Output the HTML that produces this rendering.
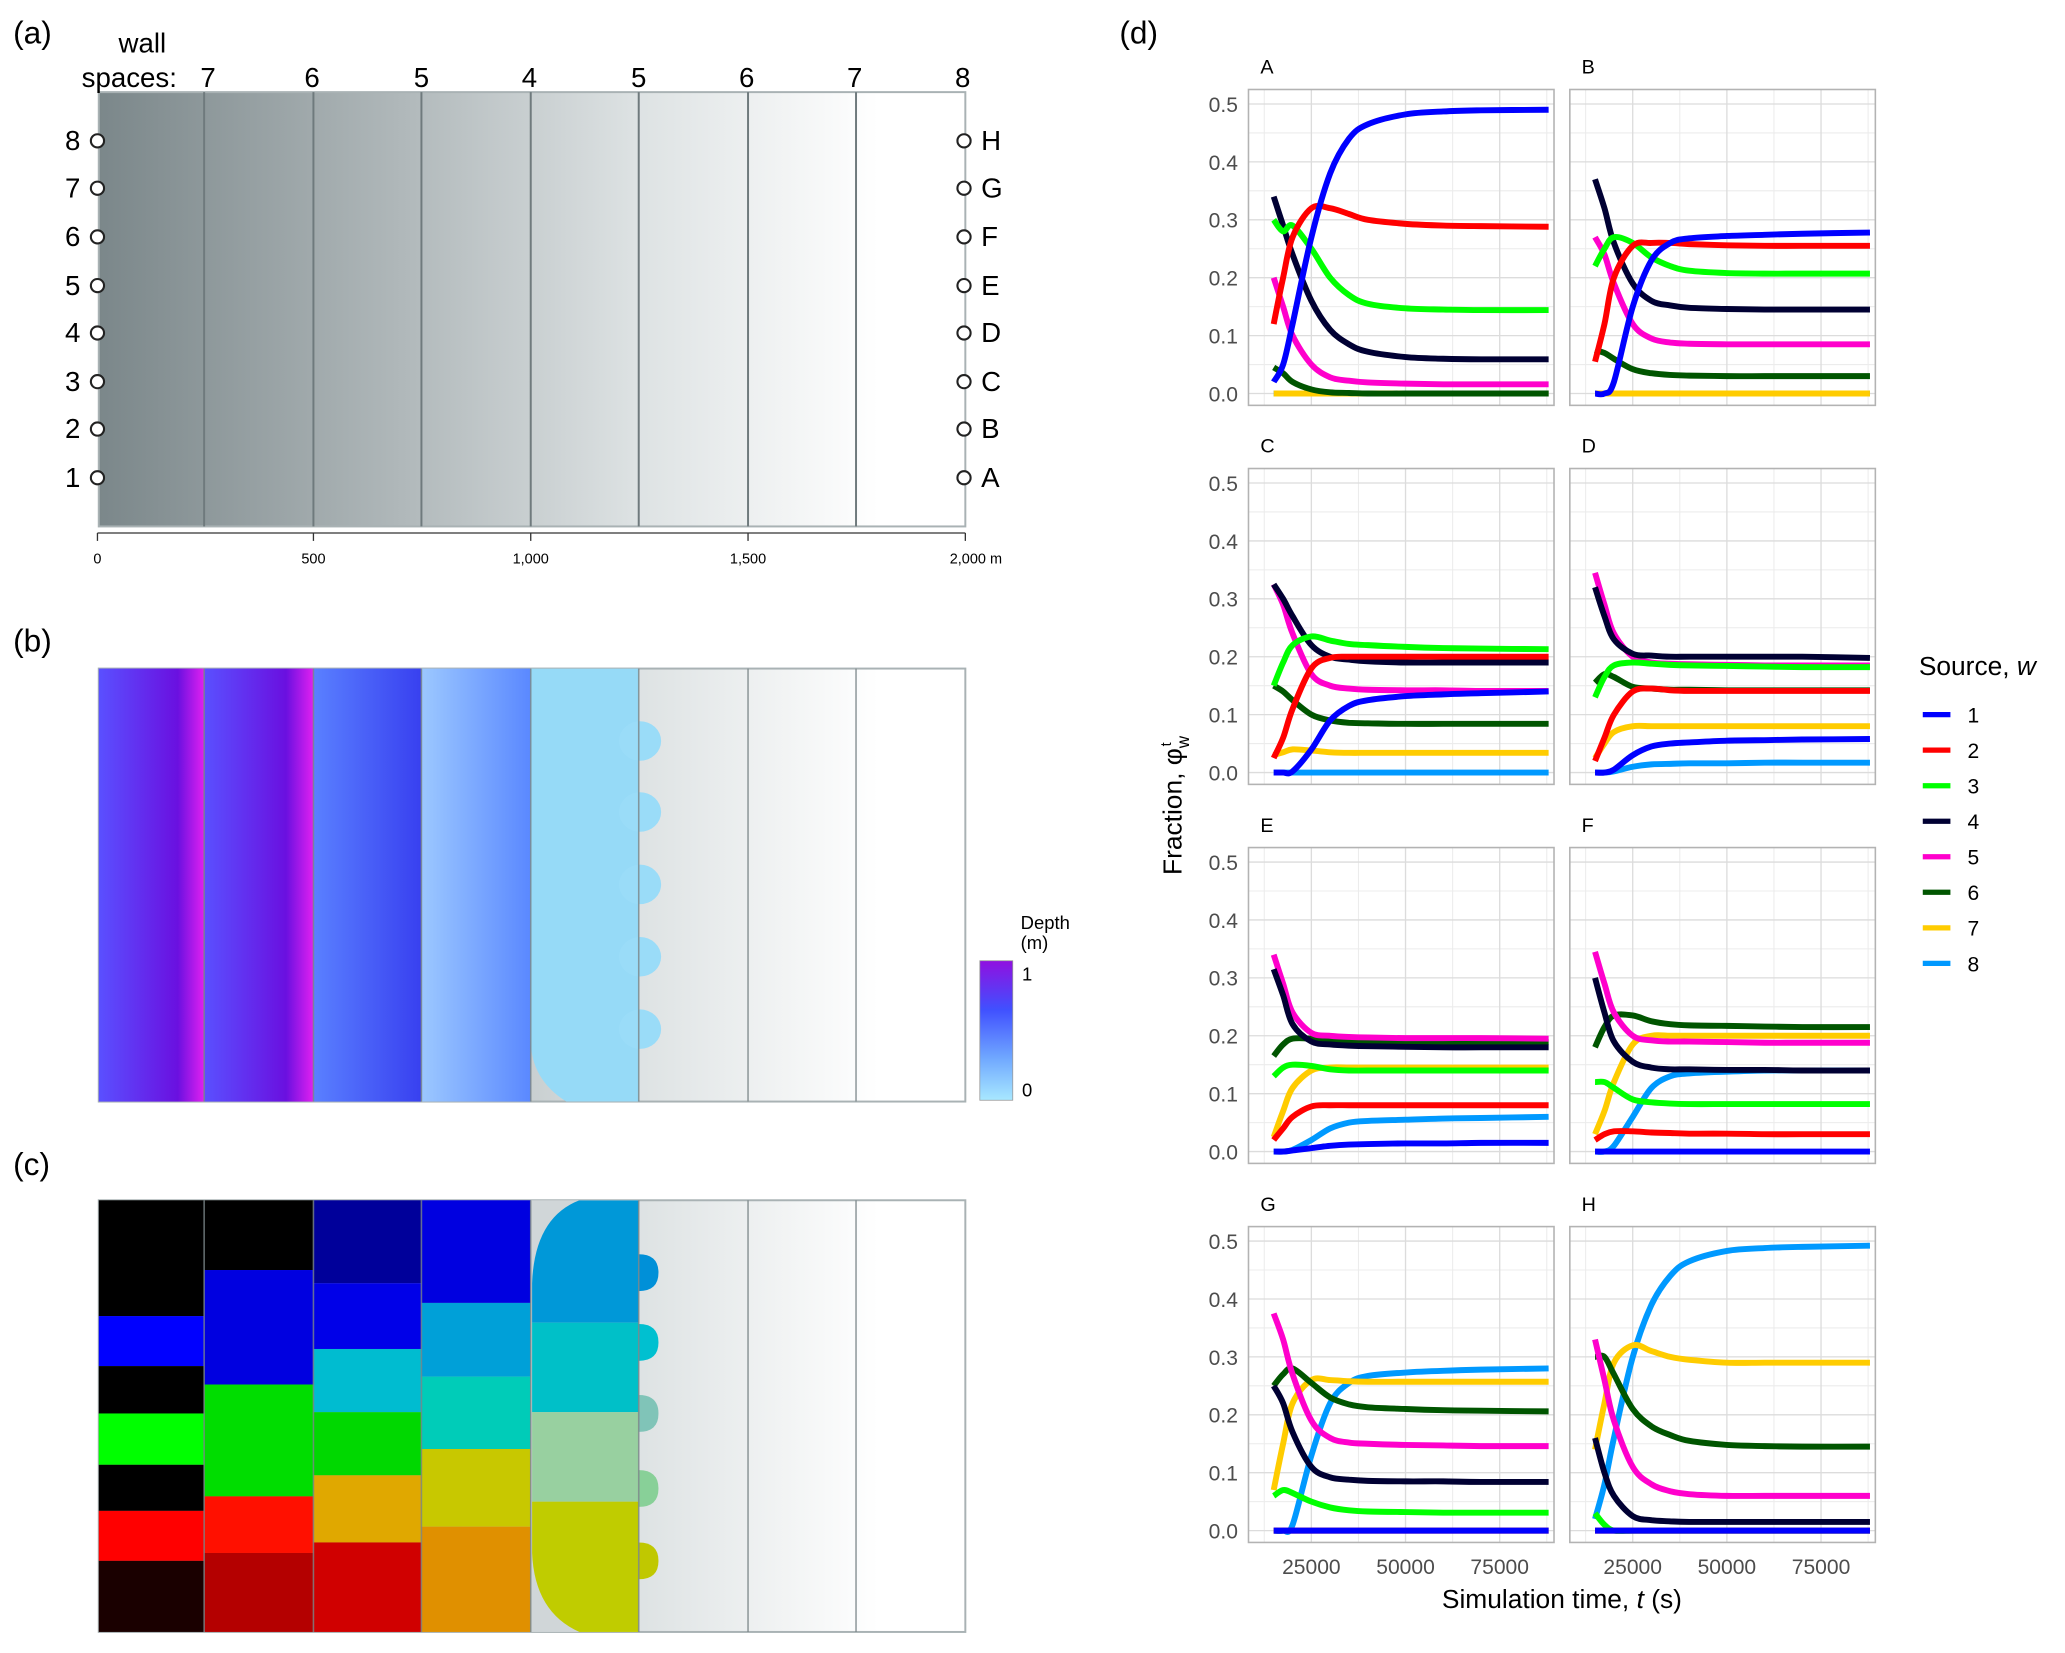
<!DOCTYPE html>
<html><head><meta charset="utf-8"><style>
html,body{margin:0;padding:0;background:#fff;}
svg{display:block;font-family:"Liberation Sans",sans-serif;}
</style></head><body>
<svg id="fig" width="2065" height="1653" viewBox="0 0 1568 1256" preserveAspectRatio="none" xmlns="http://www.w3.org/2000/svg">
<defs>
<linearGradient id="wallg" gradientUnits="userSpaceOnUse" x1="75" y1="0" x2="733" y2="0">
<stop offset="0" stop-color="#7b878a"/><stop offset="0.35" stop-color="#b0b8ba"/><stop offset="0.62" stop-color="#dde2e3"/><stop offset="0.9" stop-color="#ffffff"/></linearGradient>
<linearGradient id="purp" x1="0" y1="0" x2="1" y2="0"><stop offset="0" stop-color="#5a50ff"/><stop offset="0.75" stop-color="#6a10e0"/><stop offset="1" stop-color="#e020f0"/></linearGradient>
<linearGradient id="blu3" x1="0" y1="0" x2="1" y2="0"><stop offset="0" stop-color="#5a80ff"/><stop offset="1" stop-color="#3840f0"/></linearGradient>
<linearGradient id="blu4" x1="0" y1="0" x2="1" y2="0"><stop offset="0" stop-color="#9cc8ff"/><stop offset="1" stop-color="#5a88ff"/></linearGradient>
<linearGradient id="cbar" x1="0" y1="0" x2="0" y2="1"><stop offset="0" stop-color="#9010e0"/><stop offset="0.35" stop-color="#4050ff"/><stop offset="0.7" stop-color="#70a8ff"/><stop offset="1" stop-color="#a8e8ff"/></linearGradient>
</defs>
<g id="pa"></g>
<g id="pb"></g>
<g id="pc"></g>
<g id="pd"></g>
</svg>
<script>
const T = [15000,17500,20000,25000,30000,35000,40000,50000,60000,70000,88000];
const panelNames = ["A","B","C","D","E","F","G","H"];
const sourceColors = ["#0000ff","#ff0000","#00ff00","#000033","#ff00cc","#005500","#ffcc00","#0099ff"];
const sourceLabels = ["1","2","3","4","5","6","7","8"];
const yTicks = [0,0.1,0.2,0.3,0.4,0.5];
const xTicks = [25000,50000,75000];
const Z = [0,0,0,0,0,0,0,0,0,0,0];
const dataA = [
[0.02,0.05,0.12,0.27,0.38,0.44,0.465,0.482,0.487,0.489,0.49],
[0.12,0.20,0.27,0.32,0.32,0.31,0.30,0.293,0.29,0.289,0.288],
[0.30,0.28,0.29,0.25,0.20,0.17,0.155,0.147,0.145,0.144,0.144],
[0.34,0.29,0.24,0.16,0.11,0.085,0.072,0.063,0.06,0.059,0.059],
[0.20,0.15,0.10,0.05,0.028,0.022,0.019,0.017,0.016,0.016,0.016],
[0.045,0.035,0.02,0.007,0.002,0.001,0,0,0,0,0], Z, Z];
const dataB = [
[0,0,0.02,0.15,0.23,0.26,0.268,0.272,0.274,0.276,0.278],
[0.055,0.12,0.20,0.255,0.26,0.26,0.258,0.256,0.255,0.255,0.255],
[0.22,0.25,0.27,0.26,0.235,0.22,0.212,0.208,0.207,0.207,0.207],
[0.37,0.32,0.26,0.19,0.16,0.152,0.148,0.146,0.145,0.145,0.145],
[0.27,0.24,0.19,0.12,0.095,0.088,0.086,0.085,0.085,0.085,0.085],
[0.075,0.07,0.06,0.042,0.035,0.032,0.031,0.03,0.03,0.03,0.03], Z, Z];
const dataC = [
[0,0,0.002,0.04,0.09,0.115,0.125,0.132,0.135,0.137,0.14],
[0.025,0.06,0.11,0.18,0.198,0.2,0.2,0.2,0.2,0.2,0.2],
[0.15,0.19,0.22,0.235,0.228,0.222,0.22,0.217,0.215,0.214,0.213],
[0.325,0.30,0.27,0.22,0.2,0.195,0.192,0.19,0.19,0.19,0.19],
[0.325,0.29,0.24,0.17,0.15,0.145,0.143,0.142,0.142,0.141,0.141],
[0.15,0.14,0.125,0.10,0.09,0.086,0.085,0.084,0.084,0.084,0.084],
[0.03,0.035,0.04,0.038,0.035,0.034,0.034,0.034,0.034,0.034,0.034], Z];
const dataD = [
[0,0,0.005,0.03,0.045,0.05,0.052,0.055,0.056,0.057,0.058],
[0.02,0.06,0.10,0.14,0.145,0.142,0.141,0.141,0.141,0.141,0.141],
[0.13,0.165,0.185,0.19,0.188,0.186,0.185,0.184,0.183,0.182,0.182],
[0.32,0.27,0.23,0.205,0.202,0.2,0.2,0.2,0.2,0.2,0.198],
[0.345,0.29,0.24,0.2,0.19,0.188,0.187,0.186,0.185,0.185,0.185],
[0.155,0.17,0.165,0.148,0.145,0.143,0.143,0.142,0.142,0.142,0.142],
[0.025,0.05,0.07,0.08,0.08,0.08,0.08,0.08,0.08,0.08,0.08],
[0,0,0.002,0.01,0.014,0.015,0.016,0.016,0.017,0.017,0.017]];
const dataE = [
[0,0,0.002,0.006,0.01,0.012,0.013,0.014,0.014,0.015,0.015],
[0.02,0.04,0.06,0.078,0.08,0.08,0.08,0.08,0.08,0.08,0.08],
[0.13,0.145,0.15,0.148,0.142,0.14,0.14,0.14,0.14,0.14,0.14],
[0.315,0.27,0.22,0.19,0.185,0.183,0.182,0.181,0.18,0.18,0.18],
[0.34,0.29,0.24,0.205,0.2,0.198,0.197,0.196,0.196,0.196,0.195],
[0.165,0.185,0.195,0.195,0.192,0.19,0.19,0.189,0.189,0.189,0.189],
[0.025,0.07,0.11,0.14,0.145,0.145,0.145,0.145,0.145,0.145,0.145],
[0,0,0.003,0.02,0.04,0.05,0.053,0.055,0.057,0.058,0.06]];
const dataF = [
Z,
[0.02,0.03,0.035,0.035,0.033,0.032,0.031,0.031,0.03,0.03,0.03],
[0.12,0.12,0.11,0.09,0.085,0.083,0.082,0.082,0.082,0.082,0.082],
[0.30,0.24,0.19,0.155,0.145,0.142,0.142,0.141,0.141,0.14,0.14],
[0.345,0.29,0.24,0.2,0.192,0.19,0.19,0.189,0.188,0.188,0.188],
[0.18,0.215,0.235,0.235,0.225,0.22,0.218,0.217,0.216,0.215,0.215],
[0.03,0.07,0.12,0.185,0.2,0.2,0.2,0.2,0.2,0.2,0.2],
[0,0,0.01,0.06,0.11,0.13,0.135,0.138,0.14,0.14,0.14]];
const dataG = [
Z, Z,
[0.06,0.07,0.065,0.05,0.04,0.035,0.033,0.032,0.031,0.031,0.031],
[0.25,0.22,0.17,0.11,0.092,0.088,0.086,0.085,0.085,0.084,0.084],
[0.375,0.33,0.27,0.19,0.16,0.152,0.15,0.148,0.147,0.146,0.146],
[0.25,0.27,0.28,0.255,0.23,0.218,0.213,0.21,0.208,0.207,0.206],
[0.07,0.15,0.22,0.26,0.26,0.258,0.257,0.257,0.257,0.257,0.257],
[0,0,0.01,0.13,0.22,0.255,0.267,0.273,0.276,0.278,0.28]];
const dataH = [
Z, Z,
[0.03,0.01,0,0,0,0,0,0,0,0,0],
[0.16,0.10,0.06,0.025,0.018,0.016,0.015,0.015,0.015,0.015,0.015],
[0.33,0.26,0.19,0.11,0.08,0.068,0.063,0.06,0.06,0.06,0.06],
[0.30,0.30,0.27,0.21,0.18,0.165,0.155,0.148,0.146,0.145,0.145],
[0.14,0.22,0.29,0.32,0.31,0.30,0.295,0.29,0.29,0.29,0.29],
[0.02,0.08,0.16,0.30,0.39,0.44,0.465,0.483,0.488,0.49,0.492]];
const allData = [dataA,dataB,dataC,dataD,dataE,dataF,dataG,dataH];

const NS="http://www.w3.org/2000/svg";
function mk(parent,tag,attrs,txt){const e=document.createElementNS(NS,tag);for(const k in attrs)e.setAttribute(k,attrs[k]);if(txt!==undefined)e.textContent=txt;parent.appendChild(e);return e;}

// ---------- Panel (a) ----------
const pa=document.getElementById('pa');
let e=mk(pa,'text',{x:10,y:33,'font-size':24},'(a)');


mk(pa,'rect',{x:75,y:70,width:658,height:330,fill:'url(#wallg)',stroke:'#a9b2b4','stroke-width':1.5});
const sepX=[155,238,320,403,485,568,650];
sepX.forEach(x=>mk(pa,'line',{x1:x,y1:70,x2:x,y2:400,stroke:'#6f7a7d','stroke-width':1.5}));
mk(pa,'text',{x:90,y:40,'font-size':21},'wall');
mk(pa,'text',{x:62,y:66,'font-size':21},'spaces:');
const wallLabels=["7","6","5","4","5","6","7","8"];
const wallX=[158,237,320,402,485,567,649,731];
wallLabels.forEach((w,i)=>{e=mk(pa,'text',{x:wallX[i],y:66,'font-size':21,'text-anchor':'middle'},w);

});
const inY=[107,143,180,217,253,290,326,363];
const inL=["8","7","6","5","4","3","2","1"];
const outL=["H","G","F","E","D","C","B","A"];
inY.forEach((y,i)=>{
 mk(pa,'text',{x:61,y:y+7,'font-size':21,'text-anchor':'end'},inL[i]);
 e=mk(pa,'circle',{cx:74,cy:y,r:5,fill:'#fff',stroke:'#222','stroke-width':1.6});
 
 
 e=mk(pa,'circle',{cx:732,cy:y,r:5,fill:'#fff',stroke:'#222','stroke-width':1.6});
 
 
 mk(pa,'text',{x:745,y:y+7,'font-size':21},outL[i]);
});
mk(pa,'line',{x1:74,y1:405,x2:733,y2:405,stroke:'#333','stroke-width':1});
const distTicks=["0","500","1,000","1,500","2,000 m"];
const distX=[74,238,403,568,733];
distTicks.forEach((d,i)=>{mk(pa,'line',{x1:distX[i],y1:405,x2:distX[i],y2:411,stroke:'#333'});
 mk(pa,'text',{x:distX[i]+(i==4?8:0),y:428,'font-size':11,'text-anchor':'middle'},d);});

// ---------- Panel (b) ----------
const pb=document.getElementById('pb');
mk(pb,'text',{x:10,y:495,'font-size':24},'(b)');
mk(pb,'rect',{x:75,y:508,width:658,height:329,fill:'url(#wallg)',stroke:'#a9b2b4','stroke-width':1.5});
mk(pb,'rect',{x:75,y:508,width:80,height:329,fill:'url(#purp)'});
mk(pb,'rect',{x:155,y:508,width:83,height:329,fill:'url(#purp)'});
mk(pb,'rect',{x:238,y:508,width:82,height:329,fill:'url(#blu3)'});
mk(pb,'rect',{x:320,y:508,width:83,height:329,fill:'url(#blu4)'});
mk(pb,'path',{d:'M403,508 H485 V837 H430 Q403,820 403,790 Z',fill:'#96daf7'});
[563,617,672,727,782].forEach(y=>mk(pb,'ellipse',{cx:486,cy:y,rx:16,ry:15,fill:'#9adcf8'}));
sepX.forEach(x=>mk(pb,'line',{x1:x,y1:508,x2:x,y2:837,stroke:'#7a8588','stroke-width':1.2,opacity:0.8}));
e=mk(pb,'rect',{x:744,y:730,width:25,height:106,fill:'url(#cbar)',stroke:'#999','stroke-width':0.6});


mk(pb,'text',{x:775,y:706,'font-size':14},'Depth');
mk(pb,'text',{x:775,y:721,'font-size':14},'(m)');
mk(pb,'text',{x:776,y:745,'font-size':14},'1');
mk(pb,'text',{x:776,y:833,'font-size':14},'0');

// ---------- Panel (c) ----------
const pc=document.getElementById('pc');
mk(pc,'text',{x:10,y:893,'font-size':24},'(c)');
mk(pc,'rect',{x:75,y:912,width:658,height:328,fill:'url(#wallg)',stroke:'#a9b2b4','stroke-width':1.5});
const bands=[
 [75,80,[[912,'#000'],[1000,'#0000ff'],[1038,'#000'],[1074,'#00ff00'],[1113,'#000'],[1148,'#ff0000'],[1186,'#1a0000']]],
 [155,83,[[912,'#000'],[965,'#0000e0'],[1052,'#00dd00'],[1137,'#ff1000'],[1180,'#b40000']]],
 [238,82,[[912,'#00009a'],[975,'#0000e8'],[1025,'#00bcd0'],[1073,'#00d800'],[1121,'#e0a800'],[1172,'#d00000']]],
 [320,83,[[912,'#0000e0'],[990,'#00a0d8'],[1046,'#00ccb8'],[1101,'#c8c800'],[1160,'#e09000']]]];
bands.forEach(([x,w,bs])=>{bs.forEach((b,i)=>{const y2=i<bs.length-1?bs[i+1][0]:1240;mk(pc,'rect',{x:x,y:b[0],width:w,height:y2-b[0],fill:b[1]});});});
mk(pc,'rect',{x:403,y:912,width:82,height:328,fill:'#d0d6d8'});
const c5=[[912,'#0098d8'],[1005,'#00c0c8'],[1073,'#98d0a0'],[1141,'#c0cc00']];
const clip=mk(pc,'clipPath',{id:'c5clip'});
mk(clip,'path',{d:'M485,912 H440 Q406,925 404,975 V1180 Q406,1225 440,1240 H485 Z'});
c5.forEach((b,i)=>{const y2=i<c5.length-1?c5[i+1][0]:1240;mk(pc,'rect',{x:403,y:b[0],width:82,height:y2-b[0],fill:b[1],'clip-path':'url(#c5clip)'});});
const bumpY=[967,1020,1074,1131,1186];
const bumpC=['#0090d8','#00c0d0','#80c4b8','#88d098','#c0c800'];
bumpY.forEach((y,i)=>mk(pc,'path',{d:`M485,${y-14} Q500,${y-14} 500,${y} Q500,${y+14} 485,${y+14} Z`,fill:bumpC[i]}));
sepX.forEach(x=>mk(pc,'line',{x1:x,y1:912,x2:x,y2:1240,stroke:'#7a8588','stroke-width':1.2,opacity:0.8}));

// ---------- Panel (d) ----------
const pd=document.getElementById('pd');
mk(pd,'text',{x:850,y:33,'font-size':24},'(d)');
const colX=[948,1192], PW=232, PH=240, rowTop=[68,356,644,932];
function xs(t,x0){return x0+12+(t-12500)/25000*71.5;}
function ys(v,y0){return y0+231-v*440;}
function smooth(pts){let d=`M${pts[0][0]},${pts[0][1]}`;for(let i=0;i<pts.length-1;i++){const p0=pts[Math.max(0,i-1)],p1=pts[i],p2=pts[i+1],p3=pts[Math.min(pts.length-1,i+2)];
 const c1=[p1[0]+(p2[0]-p0[0])/6,p1[1]+(p2[1]-p0[1])/6],c2=[p2[0]-(p3[0]-p1[0])/6,p2[1]-(p3[1]-p1[1])/6];
 d+=` C${c1[0].toFixed(1)},${c1[1].toFixed(1)} ${c2[0].toFixed(1)},${c2[1].toFixed(1)} ${p2[0].toFixed(1)},${p2[1].toFixed(1)}`;}return d;}
panelNames.forEach((nm,p)=>{
 const x0=colX[p%2], y0=rowTop[Math.floor(p/2)];
 const g=mk(pd,'g',{});
 
 
 mk(g,'text',{x:x0+9,y:y0-12,'font-size':15},nm);
 mk(g,'rect',{x:x0,y:y0,width:PW,height:PH,fill:'#fff'});
 for(let v=0.05;v<0.5;v+=0.1)mk(g,'line',{x1:x0,x2:x0+PW,y1:ys(v,y0),y2:ys(v,y0),stroke:'#ececec','stroke-width':0.8});
 [12500,37500,62500,87500].forEach(t=>mk(g,'line',{x1:xs(t,x0),x2:xs(t,x0),y1:y0,y2:y0+PH,stroke:'#ececec','stroke-width':0.8}));
 yTicks.forEach(v=>{mk(g,'line',{x1:x0,x2:x0+PW,y1:ys(v,y0),y2:ys(v,y0),stroke:'#dcdcdc','stroke-width':1});
  if(p%2==0)mk(g,'text',{x:x0-8,y:ys(v,y0)+6,'font-size':16,'text-anchor':'end',fill:'#4d4d4d'},v.toFixed(1));});
 xTicks.forEach(t=>{mk(g,'line',{x1:xs(t,x0),x2:xs(t,x0),y1:y0,y2:y0+PH,stroke:'#dcdcdc','stroke-width':1});
  if(p>=6)mk(g,'text',{x:xs(t,x0),y:y0+PH+24,'font-size':16,'text-anchor':'middle',fill:'#4d4d4d'},String(t));});
 mk(g,'rect',{x:x0,y:y0,width:PW,height:PH,fill:'none',stroke:'#b3b3b3','stroke-width':1.2});
 const data=allData[p];
 for(let s=7;s>=0;s--){
  const pts=T.map((t,i)=>[xs(t,x0),ys(data[s][i],y0)]);
  const path=mk(g,'path',{d:smooth(pts),fill:'none',stroke:sourceColors[s],'stroke-width':4.5,'stroke-linecap':'butt'});
  
  
 }
});
e=mk(pd,'text',{x:1186,y:1222,'font-size':20,'text-anchor':'middle'});


e.innerHTML='Simulation time, <tspan font-style="italic">t</tspan> (s)';
e=mk(pd,'text',{transform:'translate(897,612) rotate(-90)','font-size':20,'text-anchor':'middle'});


e.innerHTML='Fraction, φ<tspan font-size="13" dy="6">w</tspan><tspan font-size="11" dy="-14" dx="-8">t</tspan>';
e=mk(pd,'text',{x:1457,y:513,'font-size':20});


e.innerHTML='Source, <tspan font-style="italic">w</tspan>';
sourceLabels.forEach((l,i)=>{
 const y=543+27*i;
 const lg=mk(pd,'g',{});
 
 
 mk(lg,'line',{x1:1460,x2:1481,y1:y,y2:y,stroke:sourceColors[i],'stroke-width':4});
 mk(lg,'text',{x:1494,y:y+6,'font-size':16},l);
});
</script>
</body></html>
